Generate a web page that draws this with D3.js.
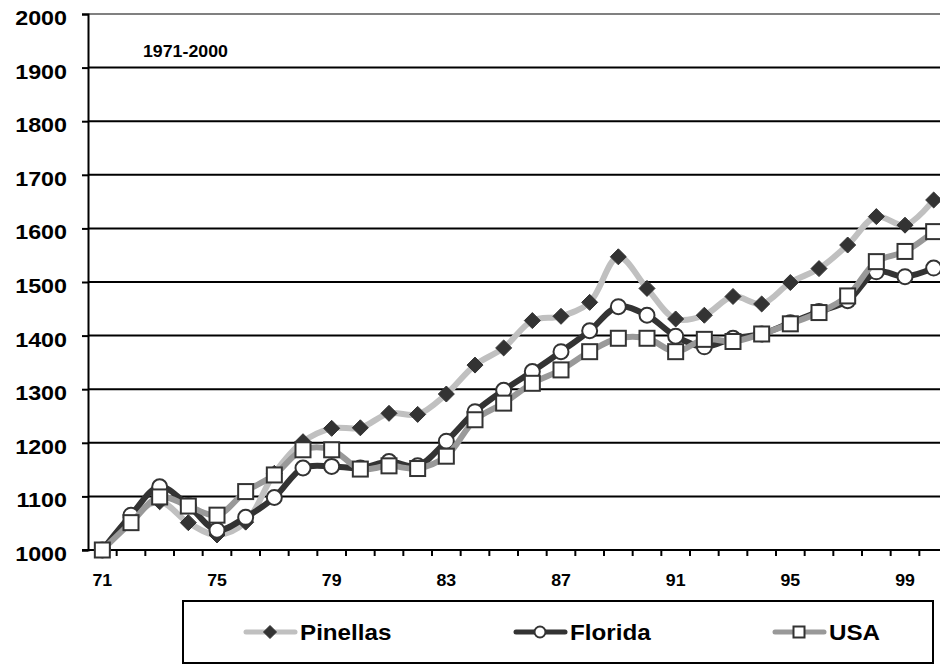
<!DOCTYPE html>
<html>
<head>
<meta charset="utf-8">
<script src="https://cdn.jsdelivr.net/npm/d3@7"></script>
<style>
  html, body { margin: 0; padding: 0; background: #fff; }
  svg { display: block; font-family: "Liberation Sans", Arial, sans-serif; font-weight: bold; }
</style>
</head>
<body>
<svg id="chart" width="940" height="665"></svg>
<script>
const years = ["71","72","73","74","75","76","77","78","79","80","81","82","83","84","85","86","87","88","89","90","91","92","93","94","95","96","97","98","99","00"];
const xTickLabels = ["71","75","79","83","87","91","95","99"];
const yTicks = [1000,1100,1200,1300,1400,1500,1600,1700,1800,1900,2000];
const pinellas = [1000,1060,1090,1051,1028,1052,1143,1202,1227,1228,1255,1253,1291,1345,1377,1428,1436,1462,1547,1488,1431,1438,1473,1459,1499,1525,1569,1622,1606,1653];
const florida  = [1000,1065,1118,1083,1037,1061,1098,1153,1156,1153,1165,1157,1203,1258,1298,1333,1370,1409,1454,1438,1399,1379,1395,1403,1424,1445,1465,1519,1510,1526];
const usa      = [1000,1051,1099,1082,1065,1109,1140,1187,1187,1151,1157,1152,1175,1243,1274,1311,1336,1370,1395,1395,1370,1393,1389,1403,1422,1443,1474,1538,1557,1594];
const seriesNames = ["Pinellas","Florida","USA"];
const chartTitle = "1971-2000";

(function () {
const svg = d3.select("#chart");
const pL = 88, pR = 948, pT = 14, pB = 550;
const SX = 1.11;

const x = d3.scaleBand().domain(years).range([pL, pR]).padding(0);
const y = d3.scaleLinear().domain([1000, 2000]).range([pB, pT]);
const cx = d => x(d) + x.bandwidth() / 2;

// gridlines
svg.append("g").selectAll("line").data(yTicks.filter(v => v > 1000 && v < 2000)).join("line")
  .attr("x1", pL).attr("x2", pR).attr("y1", d => y(d)).attr("y2", d => y(d))
  .attr("stroke", "#000").attr("stroke-width", 2);
// top border
svg.append("line").attr("x1", pL).attr("x2", pR).attr("y1", y(2000)).attr("y2", y(2000))
  .attr("stroke", "#808080").attr("stroke-width", 2);

// y axis
const yAxis = svg.append("g").attr("transform", `translate(${pL},0)`)
  .call(d3.axisLeft(y).tickValues(yTicks).tickSize(6).tickFormat(d3.format("d")));
yAxis.select(".domain").attr("stroke", "#000").attr("stroke-width", 2);
yAxis.selectAll(".tick line").attr("stroke", "#000").attr("stroke-width", 2);
yAxis.selectAll(".tick text").remove();
yAxis.selectAll(".tick").append("text")
  .attr("transform", `translate(-21,10.5) scale(${SX},1)`)
  .attr("text-anchor", "end").attr("fill", "#000")
  .style("font-size", "21px").style("font-weight", "bold")
  .text(d => d);

// x axis
const xAxis = svg.append("g").attr("transform", `translate(0,${pB})`)
  .call(d3.axisBottom(x).tickValues(xTickLabels).tickSize(0));
xAxis.select(".domain").remove();
xAxis.selectAll(".tick text").remove();
xAxis.selectAll(".tick").append("text")
  .attr("transform", `translate(0,35.5) scale(${SX},1)`)
  .attr("text-anchor", "middle").attr("fill", "#000")
  .style("font-size", "16px").style("font-weight", "bold")
  .text(d => d);
svg.append("line").attr("x1", pL - 6).attr("x2", pR).attr("y1", pB).attr("y2", pB)
  .attr("stroke", "#000").attr("stroke-width", 2);
svg.append("g").selectAll("line").data(years.slice(1)).join("line")
  .attr("x1", d => x(d)).attr("x2", d => x(d))
  .attr("y1", pB).attr("y2", pB + 6)
  .attr("stroke", "#000").attr("stroke-width", 2);

// title
svg.append("text").attr("transform", `translate(143,56.5) scale(${SX},1)`)
  .style("font-size", "16px").attr("fill", "#000").text(chartTitle);

// series
const seriesData = [pinellas, florida, usa];
const lineColors = ["#c0c0c0", "#333333", "#999999"];
const markerTypes = ["diamond", "circle", "square"];

function drawMarker(g, type, px, py, s) {
  if (type === "diamond") {
    g.append("path")
      .attr("d", `M${px},${py - s}L${px + s},${py}L${px},${py + s}L${px - s},${py}Z`)
      .attr("fill", "#333").attr("stroke", "#333").attr("stroke-width", 1);
  } else if (type === "circle") {
    g.append("circle").attr("cx", px).attr("cy", py).attr("r", s)
      .attr("fill", "#fff").attr("stroke", "#333").attr("stroke-width", 2);
  } else {
    g.append("rect").attr("x", px - s).attr("y", py - s).attr("width", 2 * s).attr("height", 2 * s)
      .attr("fill", "#fff").attr("stroke", "#333").attr("stroke-width", 2);
  }
}

const line = d3.line().x((d, i) => cx(years[i])).y(d => y(d)).curve(d3.curveCatmullRom.alpha(0.5));

seriesData.forEach((vals, si) => {
  const g = svg.append("g");
  g.append("path").datum(vals).attr("d", line)
    .attr("fill", "none").attr("stroke", lineColors[si]).attr("stroke-width", 6)
    .attr("stroke-linejoin", "round").attr("stroke-linecap", "round");
  const size = markerTypes[si] === "diamond" ? 8 : 7.5;
  vals.forEach((v, i) => drawMarker(g, markerTypes[si], cx(years[i]), y(v), size));
});

// legend
svg.append("rect").attr("x", 183).attr("y", 601).attr("width", 750).attr("height", 62)
  .attr("fill", "none").attr("stroke", "#000").attr("stroke-width", 2);
const legendX = [243, 513, 772];
const legendY = 632;
seriesNames.forEach((name, si) => {
  const g = svg.append("g");
  const x0 = legendX[si];
  g.append("line").attr("x1", x0 + 3).attr("x2", x0 + 52).attr("y1", legendY).attr("y2", legendY)
    .attr("stroke", lineColors[si]).attr("stroke-width", 5).attr("stroke-linecap", "round");
  const ms = markerTypes[si] === "diamond" ? 6.5 : 5.5;
  drawMarker(g, markerTypes[si], x0 + 27, legendY, ms);
  g.append("text").attr("transform", `translate(${x0 + 57},640) scale(1.1,1)`)
    .style("font-size", "22px").attr("fill", "#000").text(name);
});
})();
</script>
</body>
</html>
